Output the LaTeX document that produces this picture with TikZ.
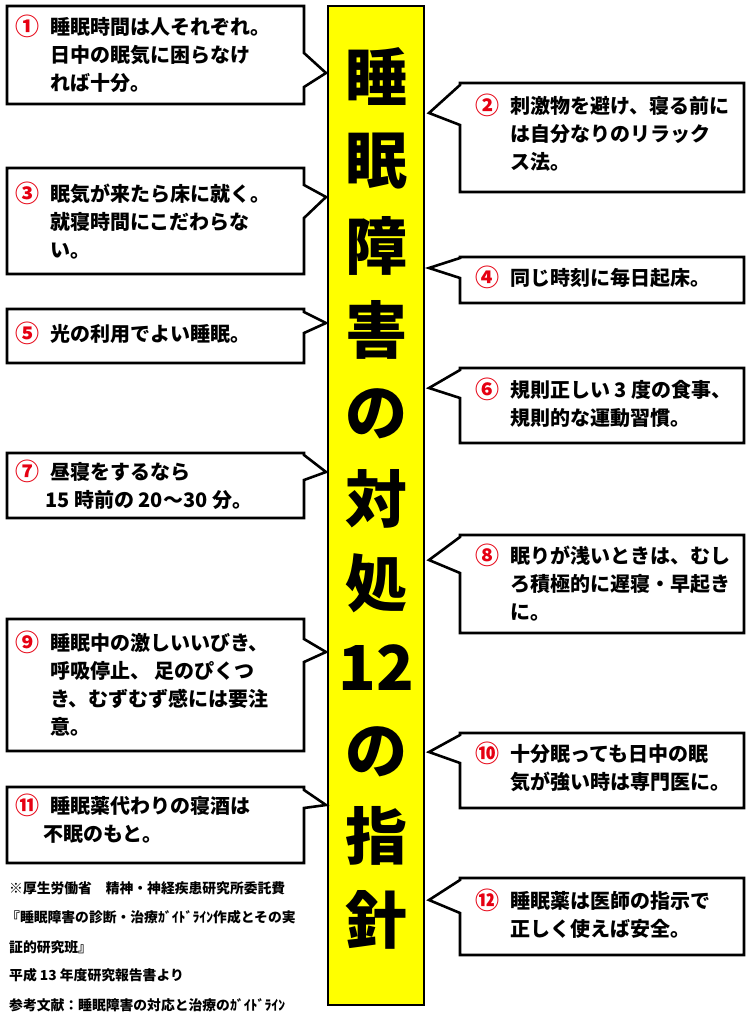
\documentclass[tikz,border=0pt]{standalone}
\usepackage{fontspec}
\setmainfont{Noto Sans CJK JP}
\definecolor{barfill}{RGB}{255,255,0}
\definecolor{tipred}{RGB}{230,0,18}
\newcommand\tiptext[2]{\begin{tabular}{@{}p{35pt}@{}l@{}}\raisebox{-1pt}{\fontsize{24}{28}\selectfont\textcolor{tipred}{#1}} & #2\end{tabular}}
\tikzset{
  bubble/.style={draw=black, line width=2.6pt, fill=white, line join=miter},
  tipnode/.style={anchor=west, inner sep=0pt, align=left,
    font=\fontsize{20}{28}\selectfont\bfseries},
  titlechar/.style={inner sep=0pt, font=\fontsize{62}{62}\selectfont\bfseries},
  footnode/.style={anchor=west, inner sep=0pt, font=\fontsize{13.8}{14}\selectfont\bfseries}
}
\begin{document}
\begin{tikzpicture}[x=1pt,y=-1pt]

    \useasboundingbox (0,0) rectangle (750,1024);
    \fill[white] (0,0) rectangle (750,1024);

    %% Title bar
    \draw[line width=2.6pt, fill=barfill] (328,6) rectangle (424,1005);
    \foreach \ch [count=\i from 0] in {睡,眠,障,害,の,対,処,12,の,指,針}
        \node[titlechar] (title-\i) at (376,{77+84.3*\i}) {\ch};

    %% Left bubbles
    \foreach \ya/\yb/\yc/\yd/\ye in {6/104/53/73/87, 168/274/185/197/218,
        309/363/312/323/333, 453/518/455/472/480, 619/751/639/652/662,
        787/863/790/805/808}
        \draw[bubble] (7,\ya) -- (304,\ya) -- (304,\yc) -- (326,\yd)
            -- (304,\ye) -- (304,\yb) -- (7,\yb) -- cycle;

    %% Right bubbles
    \foreach \ya/\yb/\yc/\yd/\ye in {83/192/85/113/125, 257/303/258/268/278,
        368/443/370/388/398, 535/633/537/560/573, 733/808/735/752/763,
        878/955/880/900/913}
        \draw[bubble] (460,\ya) -- (744,\ya) -- (744,\yb) -- (460,\yb)
            -- (460,\ye) -- (429,\yd) -- (460,\yc) -- cycle;

    % Left texts
    \node[tipnode] (tip1) at (15,57) {\tiptext{①}{睡眠時間は人それぞれ。\\ & 日中の眠気に困らなけ\\ & れば十分。}};
    \node[tipnode] (tip3) at (15,224) {\tiptext{③}{眠気が来たら床に就く。\\ & 就寝時間にこだわらな\\ & い。}};
    \node[tipnode] (tip5) at (15,336) {\tiptext{⑤}{光の利用でよい睡眠。}};
    \node[tipnode] (tip7) at (15,488) {\tiptext{⑦}{昼寝をするなら\\ & \hspace{-5pt}15 時前の 20～30 分。}};
    \node[tipnode] (tip9) at (15,687) {\tiptext{⑨}{睡眠中の激しいいびき、\\ & 呼吸停止、 足のぴくつ\\ & き、むずむず感には要注\\ & 意。}};
    \node[tipnode] (tip11) at (15,822) {\tiptext{⑪}{睡眠薬代わりの寝酒は\\ & \hspace{-7pt}不眠のもと。}};

    % Right texts
    \node[tipnode] (tip2) at (475,136) {\tiptext{②}{刺激物を避け、寝る前に\\ & は自分なりのリラック\\ & ス法。}};
    \node[tipnode] (tip4) at (475,280) {\tiptext{④}{同じ時刻に毎日起床。}};
    \node[tipnode] (tip6) at (475,406) {\tiptext{⑥}{規則正しい 3 度の食事、\\ & 規則的な運動習慣。}};
    \node[tipnode] (tip8) at (475,586) {\tiptext{⑧}{眠りが浅いときは、むし\\ & ろ積極的に遅寝・早起き\\ & に。}};
    \node[tipnode] (tip10) at (475,770) {\tiptext{⑩}{十分眠っても日中の眠\\ & 気が強い時は専門医に。}};
    \node[tipnode] (tip12) at (475,917) {\tiptext{⑫}{睡眠薬は医師の指示で\\ & 正しく使えば安全。}};

    % Source notes
    \node[footnode] (note1) at (9,888) {※厚生労働省　精神・神経疾患研究所委託費};
    \node[footnode] (note2) at (6,917) {『睡眠障害の診断・治療ｶﾞｲﾄﾞﾗｲﾝ作成とその実};
    \node[footnode] (note3) at (9,947) {証的研究班』};
    \node[footnode] (note4) at (9,975) {平成 13 年度研究報告書より};
    \node[footnode] (note5) at (9,1005) {参考文献：睡眠障害の対応と治療のｶﾞｲﾄﾞﾗｲﾝ};

\end{tikzpicture}
\end{document}
